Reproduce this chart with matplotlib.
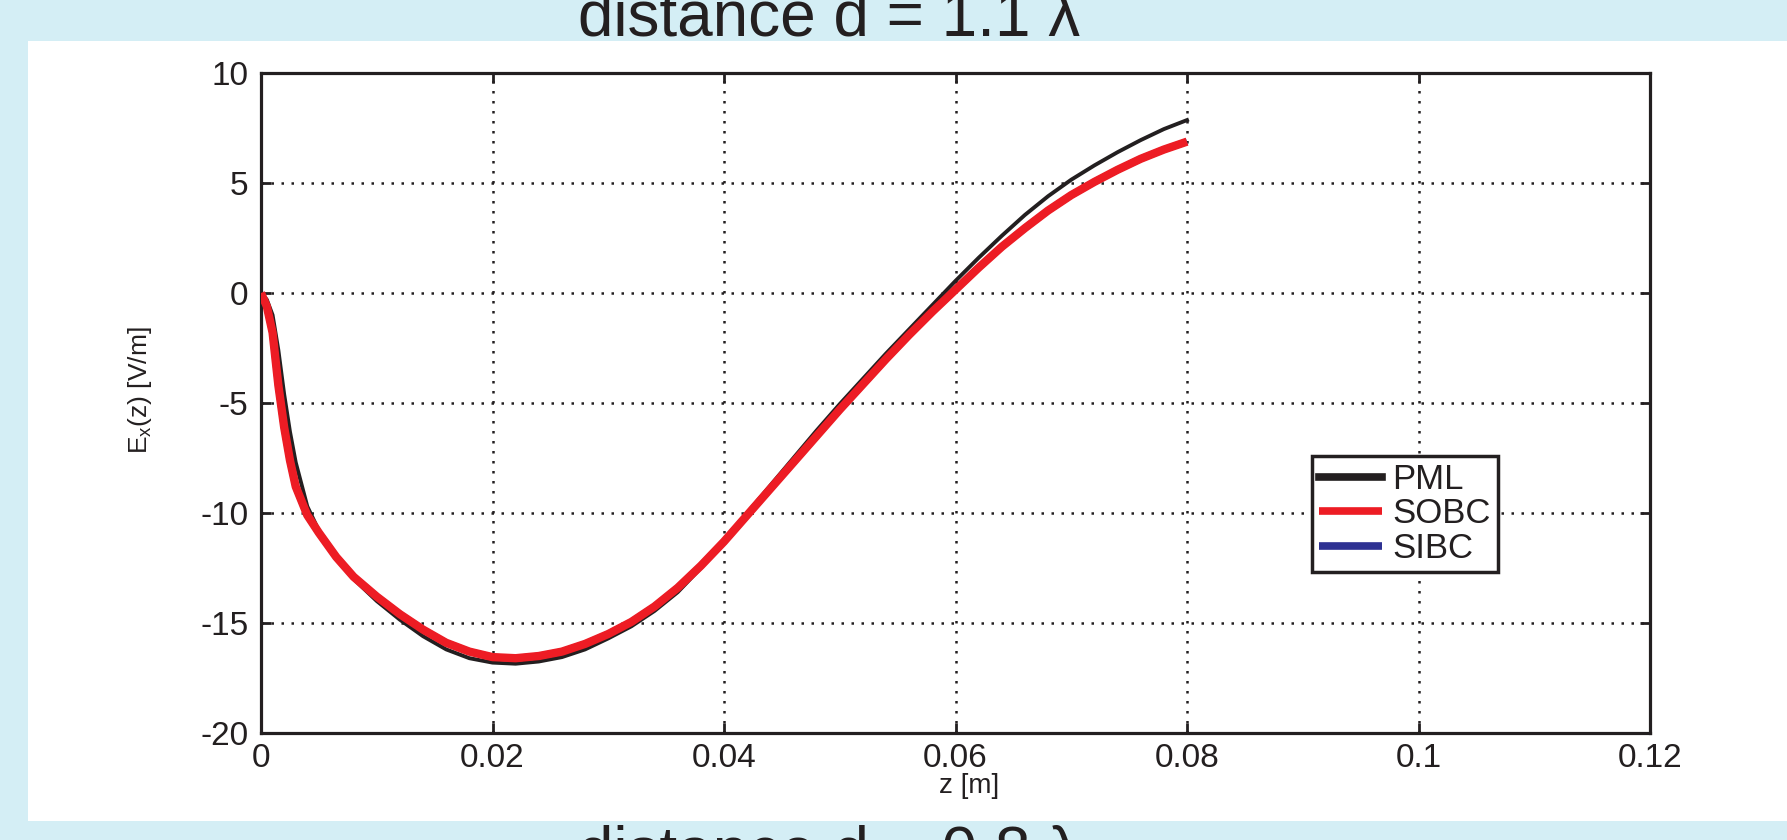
import matplotlib
matplotlib.use("Agg")
import matplotlib.pyplot as plt
from matplotlib.patches import Rectangle

plt.rcParams['font.family'] = ['Liberation Sans', 'DejaVu Sans']
plt.rcParams['mathtext.fontset'] = 'custom'
plt.rcParams['mathtext.rm'] = 'Liberation Sans'
plt.rcParams['mathtext.it'] = 'Liberation Sans'
plt.rcParams['axes.unicode_minus'] = False

# ---- data ----
z = [0, 0.0005, 0.001, 0.0015, 0.002, 0.0025, 0.003, 0.004, 0.005, 0.0065, 0.008,
     0.01, 0.012, 0.014, 0.016, 0.018, 0.02, 0.022, 0.024, 0.026, 0.028, 0.03,
     0.032, 0.034, 0.036, 0.038, 0.04, 0.042, 0.044, 0.046, 0.048, 0.05, 0.052,
     0.054, 0.056, 0.058, 0.06, 0.062, 0.064, 0.066, 0.068, 0.07, 0.072, 0.074,
     0.076, 0.078, 0.08]
pml = [0, -0.3, -1.0, -2.6, -4.6, -6.3, -7.7, -9.7, -10.8, -12.0, -13.0,
       -14.0, -14.85, -15.6, -16.2, -16.6, -16.8, -16.85, -16.75, -16.55, -16.2, -15.7,
       -15.15, -14.45, -13.6, -12.5, -11.3, -10.0, -8.75, -7.5, -6.25, -5.05, -3.9,
       -2.75, -1.65, -0.55, 0.55, 1.6, 2.6, 3.55, 4.4, 5.15, 5.8, 6.4,
       6.95, 7.45, 7.86]
sobc = [0, -0.6, -1.8, -4.2, -6.1, -7.6, -8.8, -10.1, -10.9, -12.0, -12.9,
        -13.8, -14.6, -15.3, -15.9, -16.3, -16.55, -16.6, -16.5, -16.3, -15.95, -15.5,
        -14.95, -14.25, -13.4, -12.4, -11.3, -10.1, -8.9, -7.7, -6.5, -5.3, -4.15,
        -3.0, -1.9, -0.85, 0.15, 1.15, 2.1, 2.95, 3.75, 4.45, 5.05, 5.6,
        6.1, 6.52, 6.88]
sibc = list(sobc)

xticks = [0, 0.02, 0.04, 0.06, 0.08, 0.1, 0.12]
xticklabels = ['0', '0.02', '0.04', '0.06', '0.08', '0.1', '0.12']
yticks = [-20, -15, -10, -5, 0, 5, 10]
top_text = "distance d = 1.1 \u03bb"
bottom_text = "distance d = 0.8 \u03bb"

W, H = 1787, 840
fig = plt.figure(figsize=(W / 100, H / 100), dpi=100)
fig.patch.set_facecolor('#d4eef5')
fig.add_artist(Rectangle((28 / W, 19 / H), 1 - 28 / W, (821 - 41) / H,
                         transform=fig.transFigure, facecolor='white',
                         edgecolor='none', zorder=0))

dark = '#231f20'
ax = fig.add_axes([261 / W, (H - 733) / H, 1389 / W, 660 / H])
ax.set_facecolor('white')

l3, = ax.plot(z, sibc, color='#2e3192', lw=5, zorder=2, solid_capstyle='butt')
l1, = ax.plot(z, pml, color=dark, lw=2.8, zorder=3)
l2, = ax.plot(z, sobc, color='#ed1c24', lw=6, zorder=4, solid_capstyle='butt')

ax.set_xlim(0, 0.12)
ax.set_ylim(-20, 10)
ax.set_xticks(xticks)
ax.set_xticklabels(xticklabels)
ax.set_yticks(yticks)
ax.grid(True, color=dark, linestyle=(0, (1, 3)), linewidth=1.8)
ax.tick_params(direction='in', length=7, width=2, colors=dark, labelsize=24,
               top=True, right=True, pad=9)
ax.tick_params(axis='x', pad=7)
for s in ax.spines.values():
    s.set_linewidth(2.3)
    s.set_color(dark)

ax.set_xlabel('z [m]', fontsize=20, color=dark, va='center')
ax.xaxis.set_label_coords(0.51, -0.08)
ax.set_ylabel(r'E$_\mathregular{x}$(z) [V/m]', fontsize=19, color=dark, va='center')
ax.yaxis.set_label_coords(-0.087, 0.52)

leg = ax.legend([l1, l2, l3], ['PML', 'SOBC', 'SIBC'], loc='upper left',
                bbox_to_anchor=(0.757, 0.42), borderaxespad=0, fontsize=25,
                fancybox=False, framealpha=1, edgecolor=dark, handlelength=1.8,
                handletextpad=0.3, borderpad=0.2, labelspacing=0.05)
leg.get_frame().set_linewidth(2.5)
for h in leg.legend_handles:
    h.set_linewidth(5.5)
for t in leg.get_texts():
    t.set_color(dark)

fig.text(829 / W, (H - 35) / H, top_text, fontsize=46, color=dark,
         ha='center', va='baseline')
fig.text(829 / W, (H - 872) / H, bottom_text, fontsize=46, color=dark,
         ha='center', va='baseline')

fig.savefig('out.png', dpi=100, facecolor=fig.get_facecolor())
